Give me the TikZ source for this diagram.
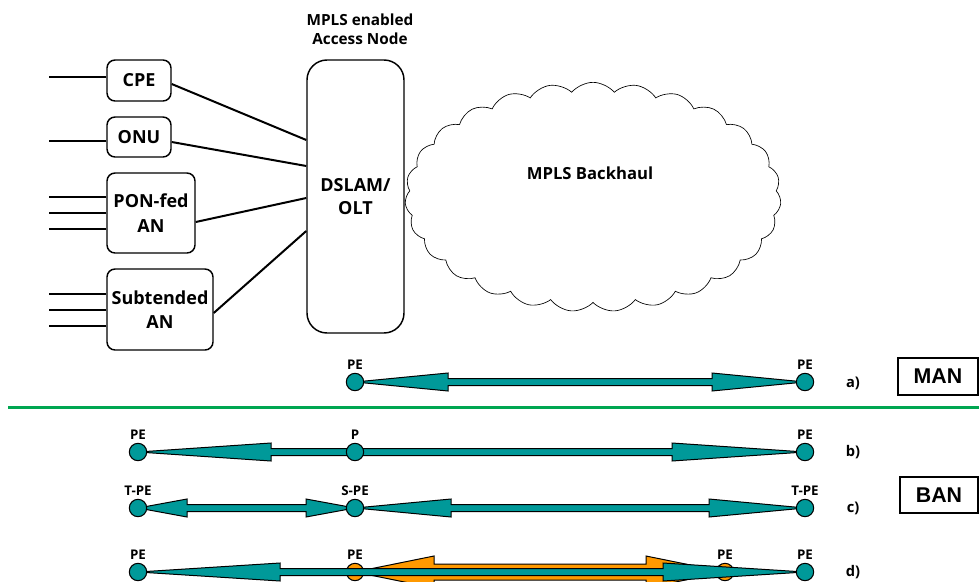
\documentclass[tikz,border=0pt]{standalone}
\usepackage{fontspec}
\setsansfont{Open Sans}
\newfontfamily\tagfont{Liberation Sans}
\usetikzlibrary{shapes.symbols,calc}
\definecolor{pipeteal}{RGB}{0,153,153}
\definecolor{pipeorange}{RGB}{255,153,0}
\definecolor{splitgreen}{RGB}{0,166,81}
\tikzset{every node/.append style={font=\sffamily\bfseries}}
\tikzset{
  anbox/.style={draw, rounded corners=6pt, line width=1.1pt, align=center, inner sep=0pt,
    font=\sffamily\bfseries\fontsize{13.5}{18.5}\selectfont},
  wire/.style={line width=1.5pt},
  pe/.style={draw, circle, fill=pipeteal, line width=0.8pt, minimum size=13pt, inner sep=0pt},
  peo/.style={pe, fill=pipeorange},
  petag/.style={font=\sffamily\bfseries\fontsize{10}{11}\selectfont, inner sep=0pt},
  netzone/.style={draw, line width=1.2pt, minimum width=60pt, minimum height=27.75pt,
    font=\tagfont\bfseries\fontsize{16}{18}\selectfont},
  rowtag/.style={font=\sffamily\bfseries\fontsize{11}{13}\selectfont}
}
% from, to, head length, head half width, shaft half width, colour
\newcommand{\netpipe}[6]{%
  \filldraw[fill=#6, draw=black, line width=0.75pt]
    (#1) -- ($(#1)+(#3,-#4)$) -- ($(#1)+(#3,-#5)$) -- ($(#2)+(-#3,-#5)$)
    -- ($(#2)+(-#3,-#4)$) -- (#2) -- ($(#2)+(-#3,#4)$) -- ($(#2)+(-#3,#5)$)
    -- ($(#1)+(#3,#5)$) -- ($(#1)+(#3,#4)$) -- cycle;}

\begin{document}
\begin{tikzpicture}[x=0.75pt, y=-0.75pt, every label/.append style={petag}, label distance=2pt]
  \useasboundingbox (0,0) rectangle (979,582);

  % access node and what hangs off it
  \node[font=\sffamily\bfseries\fontsize{11.5}{14}\selectfont, align=center] (title) at (360,29.5) {MPLS enabled\\Access Node};
  \node[anbox, rounded corners=15pt, minimum width=72.75pt, minimum height=204.75pt,
    font=\sffamily\bfseries\fontsize{13.5}{17}\selectfont] (dslam) at (355.5,196.5) {DSLAM/\\OLT};
  \node[anbox, minimum width=48pt, minimum height=30.75pt] (cpe) at (139,80.5) {CPE};
  \node[anbox, minimum width=48pt, minimum height=30pt] (onu) at (139,137) {ONU};
  \node[anbox, minimum width=66pt, minimum height=60pt] (pon) at (151,213) {PON-fed\\AN};
  \node[anbox, minimum width=79.5pt, minimum height=60.75pt] (sub) at (160,309.5) {Subtended\\AN};

  \draw[wire] ($(cpe.west)+(0,-3.5)$) -- ++(-57,0);
  \draw[wire] ($(onu.west)+(0,4)$) -- ++(-57,0);
  \foreach \dy in {-16,0,16} {
    \draw[wire] ($(pon.west)+(0,\dy)$) -- ++(-57,0);
    \draw[wire] ($(sub.west)+(0,\dy)$) -- ++(-57,0);
  }
  \draw[wire] ($(cpe.east)+(0,3.5)$) -- ($(dslam.west)+(0,-56.5)$);
  \draw[wire] ($(onu.east)+(0,5)$) -- ($(dslam.west)+(0,-30.5)$);
  \draw[wire] ($(pon.east)+(0,9)$) -- ($(dslam.west)+(0,1.5)$);
  \draw[wire] ($(sub.east)+(0,3.5)$) -- ($(dslam.west)+(0,34.5)$);

  \node[cloud, draw, cloud puffs=27, cloud puff arc=100, aspect=1.64, line width=0.5pt,
    minimum width=282pt, minimum height=172pt] (backhaul) at (593,197) {};
  \node[font=\sffamily\bfseries\fontsize{12.5}{14}\selectfont] (bhtext) at (590,173) {MPLS Backhaul};

  % MAN
  \coordinate (a1) at (355,382);
  \coordinate (a2) at (805,382);
  \netpipe{a1}{a2}{93}{9}{3.5}{pipeteal}
  \node[pe, label=above:PE] (pea1) at (a1) {};
  \node[pe, label=above:PE] (pea2) at (a2) {};
  \node[rowtag] (taga) at (853,383) {a)};
  \node[netzone] (man) at (938,376.5) {MAN};

  \draw[splitgreen, line width=2.25pt] (8,407) -- (979,407);

  % BAN
  \coordinate (b1) at (138,452);
  \coordinate (b2) at (355,452);
  \coordinate (b3) at (805,452);
  \netpipe{b1}{b3}{133}{9}{3.5}{pipeteal}
  \node[pe, label=above:PE] (peb1) at (b1) {};
  \node[pe, label=above:P] (pb2) at (b2) {};
  \node[pe, label=above:PE] (peb3) at (b3) {};
  \node[rowtag] (tagb) at (853,452) {b)};

  \coordinate (c1) at (138,508);
  \coordinate (c2) at (355,508);
  \coordinate (c3) at (805,508);
  \netpipe{c1}{c2}{49}{9}{3.5}{pipeteal}
  \netpipe{c2}{c3}{96}{9}{3.5}{pipeteal}
  \node[pe, label=above:T-PE] (tpec1) at (c1) {};
  \node[pe, label=above:S-PE] (spec2) at (c2) {};
  \node[pe, label=above:T-PE] (tpec3) at (c3) {};
  \node[rowtag] (tagc) at (853,508) {c)};
  \node[netzone, minimum width=58.5pt, minimum height=27pt] (ban) at (939,495) {BAN};

  \coordinate (d1) at (138,572);
  \coordinate (d2) at (355,572);
  \coordinate (d3) at (725,572);
  \coordinate (d4) at (805,572);
  \netpipe{d2}{d3}{79}{16}{8}{pipeorange}
  \node[peo, label=above:PE] (ped2) at (d2) {};
  \node[peo, label=above:PE] (ped3) at (d3) {};
  \netpipe{d1}{d4}{142}{9}{3.5}{pipeteal}
  \node[pe, label=above:PE] (ped1) at (d1) {};
  \node[pe, label=above:PE] (ped4) at (d4) {};
  \node[rowtag] (tagd) at (853,572) {d)};
\end{tikzpicture}
\end{document}
